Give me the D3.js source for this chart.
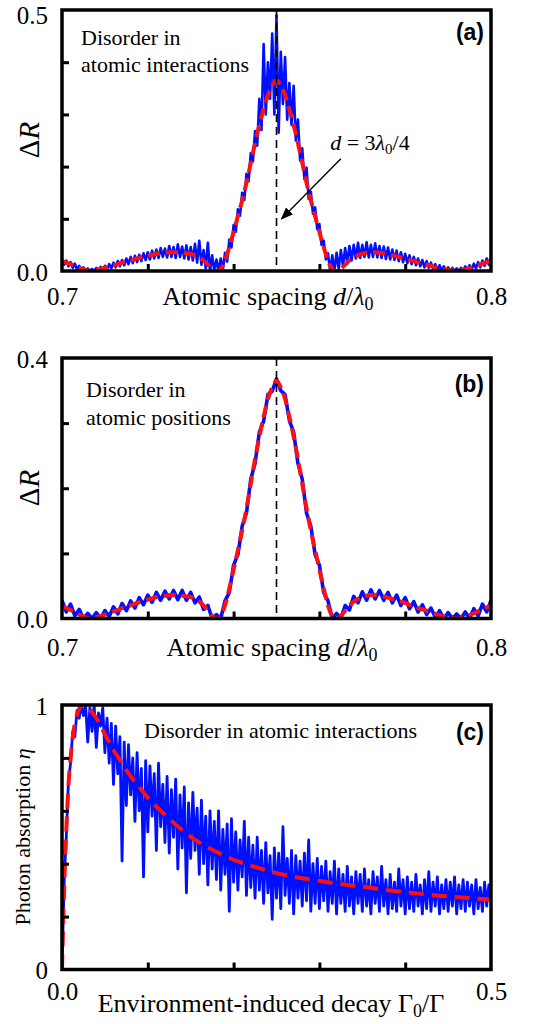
<!DOCTYPE html>
<html>
<head>
<meta charset="utf-8">
<script src="https://cdnjs.cloudflare.com/ajax/libs/d3/7.8.5/d3.min.js"></script>
<style>
body { margin: 0; background: #fff; }
svg text { font-family: "Liberation Serif", "Times New Roman", serif; fill: #000; }
</style>
</head>
<body>
<div id="chart"></div>
<script>
// ---- data ----
// mean Delta R (red dashed), panels (a) and (b), d/lambda0 = 0.700..0.800 step 0.001
var meanDR = [.019,.016,.013,.010,.006,.003,.001,.000,.002,.004,
  .006,.008,.011,.013,.016,.018,.020,.023,.025,.027,
  .029,.031,.033,.034,.035,.036,.036,.036,.035,.034,
  .033,.030,.026,.020,.012,.004,.000,.004,.020,.046,
  .075,.105,.135,.169,.207,.245,.279,.310,.337,.355,
  .365,
  .355,.337,.310,.279,.245,.207,.169,.135,.105,.075,
  .046,.020,.004,.000,.004,.012,.020,.026,.030,.033,
  .035,.036,.036,.035,.034,.032,.030,.028,.026,.024,
  .021,.019,.016,.014,.012,.010,.007,.005,.003,.002,
  .001,.000,.001,.003,.005,.008,.011,.014,.017,.020];

// single realisation, disorder in atomic interactions (a), step 0.0005
var blueA = [.022,.012,.020,.009,.017,.006,.014,.003,.010,.001,
  .007,.000,.005,.000,.004,.000,.006,.000,.008,.002,
  .010,.003,.013,.005,.016,.007,.019,.009,.021,.011,
  .024,.013,.027,.015,.029,.017,.031,.019,.034,.021,
  .036,.022,.039,.024,.041,.025,.044,.027,.043,.026,
  .048,.027,.046,.025,.051,.027,.047,.024,.049,.022,
  .046,.020,.052,.016,.058,.012,.040,.005,.054,.000,
  .030,.000,.022,.000,.024,.002,.035,.018,.060,.045,
  .088,.075,.118,.106,.150,.136,.186,.172,.226,.210,
  .268,.240,.330,.270,.435,.300,.400,.330,.455,.300,
  .490,.265,.420,.320,.410,.290,.360,.280,.355,.250,
  .290,.212,.235,.176,.198,.138,.152,.110,.122,.080,
  .090,.050,.058,.022,.034,.000,.030,.000,.035,.004,
  .040,.010,.044,.015,.048,.020,.050,.024,.054,.025,
  .050,.027,.055,.026,.050,.027,.053,.026,.048,.025,
  .047,.023,.045,.022,.041,.021,.039,.019,.036,.017,
  .033,.015,.030,.013,.027,.011,.024,.009,.021,.007,
  .019,.006,.016,.004,.013,.002,.011,.001,.009,.000,
  .007,.000,.006,.000,.005,.000,.006,.001,.009,.002,
  .011,.003,.014,.005,.017,.007,.020,.010,.024,.012,
  .026];

// single realisation, disorder in atomic positions (b), step 0.001
var blueB = [.028,.010,.022,.004,.014,.000,.008,.000,.009,.000,
  .012,.003,.018,.007,.023,.012,.027,.016,.032,.021,
  .036,.025,.040,.028,.042,.030,.043,.029,.043,.028,
  .040,.024,.033,.014,.020,.000,.006,.000,.027,.040,
  .082,.098,.142,.162,.214,.238,.286,.303,.344,.349,
  .368,
  .350,.344,.304,.286,.238,.214,.162,.142,.098,.082,
  .040,.027,.000,.008,.000,.020,.013,.034,.024,.041,
  .028,.044,.030,.043,.028,.040,.024,.036,.020,.032,
  .015,.026,.010,.021,.006,.016,.002,.012,.000,.009,
  .000,.007,.000,.010,.000,.015,.004,.022,.010,.028];

// photon absorption (c): mean curve
var decayMeanX = [0, 0.002, 0.004, 0.006, 0.008, 0.01, 0.013, 0.016, 0.02, 0.025, 0.03, 0.04, 0.05, 0.06, 0.07, 0.08, 0.09, 0.10,
  0.12, 0.14, 0.16, 0.18, 0.20, 0.22, 0.24, 0.26, 0.28, 0.30, 0.32, 0.35, 0.38, 0.41, 0.44, 0.47, 0.50];
var etaMean = [0, 0.25, 0.45, 0.60, 0.72, 0.80, 0.89, 0.945, 0.985, 1.0, 0.99, 0.95, 0.89, 0.83, 0.78, 0.73, 0.69, 0.65,
  0.585, 0.527, 0.48, 0.445, 0.415, 0.393, 0.373, 0.357, 0.345, 0.335, 0.325, 0.313, 0.300, 0.289, 0.279, 0.271, 0.265];

// photon absorption (c): single realisation, step 0.0025
var etaBlue = [0.00,0.33,0.50,0.71,0.78,0.90,0.88,0.98,0.95,1.00,
  0.96,1.00,0.86,0.99,0.90,1.00,0.84,0.97,0.92,0.99,
  0.82,0.95,0.78,0.93,0.70,0.92,0.74,0.88,0.41,0.86,
  0.62,0.85,0.66,0.80,0.56,0.82,0.60,0.76,0.35,0.79,
  0.52,0.77,0.58,0.74,0.45,0.78,0.54,0.70,0.48,0.73,
  0.44,0.68,0.50,0.72,0.38,0.66,0.46,0.69,0.29,0.63,
  0.42,0.67,0.45,0.61,0.36,0.64,0.40,0.58,0.32,0.60,
  0.38,0.56,0.34,0.60,0.30,0.53,0.36,0.55,0.22,0.57,
  0.33,0.52,0.30,0.49,0.35,0.56,0.28,0.50,0.31,0.47,
  0.27,0.50,0.30,0.45,0.25,0.48,0.29,0.43,0.19,0.46,
  0.27,0.44,0.23,0.54,0.28,0.42,0.25,0.45,0.21,0.43,
  0.27,0.41,0.24,0.44,0.26,0.49,0.22,0.40,0.25,0.42,
  0.23,0.39,0.26,0.41,0.22,0.37,0.25,0.41,0.21,0.38,
  0.25,0.36,0.22,0.39,0.24,0.35,0.21,0.37,0.25,0.36,
  0.22,0.38,0.24,0.34,0.21,0.37,0.25,0.35,0.22,0.39,
  0.24,0.34,0.21,0.36,0.23,0.33,0.22,0.38,0.24,0.34,
  0.21,0.35,0.23,0.33,0.22,0.36,0.24,0.32,0.21,0.34,
  0.23,0.37,0.22,0.33,0.24,0.35,0.21,0.32,0.23,0.34,
  0.22,0.33,0.24,0.35,0.21,0.32,0.23,0.34,0.22,0.33,
  0.24,0.32,0.21,0.34,0.23,0.31,0.22,0.33,0.24,0.32,
  0.26];

// ticks
var spacingTicks = [0.72, 0.74, 0.76, 0.78];
var spacingLabels = [0.7, 0.8];
var dRTicksA = [0.1, 0.2, 0.3, 0.4];
var dRLabelsA = [0.0, 0.5];
var dRTicksB = [0.1, 0.2, 0.3];
var dRLabelsB = [0.0, 0.4];
var decayTicks = [0.1, 0.2, 0.3, 0.4];
var decayLabels = [0.0, 0.5];
var etaTicks = [0.2, 0.4, 0.6, 0.8];
var etaLabels = [0, 1];

// ---- drawing ----
var W = 540, H = 1024;
var left = 62, right = 491;
var SERIF = "'Liberation Serif', 'Times New Roman', Times, serif";
var SANS = "'Liberation Sans', Arial, Helvetica, sans-serif";

var svg = d3.select("#chart").append("svg")
  .attr("width", W).attr("height", H);

var defs = svg.append("defs");
defs.append("marker").attr("id", "arrow")
  .attr("viewBox", "0 0 10 10").attr("refX", 9).attr("refY", 5)
  .attr("markerWidth", 9).attr("markerHeight", 9).attr("orient", "auto")
  .append("path").attr("d", "M0,1 L10,5 L0,9 Z").attr("fill", "#000");

function grid(vals, x0, step) {
  return vals.map(function(v, i) { return [x0 + i * step, v]; });
}

function txt(g, size, x, y) {
  return g.append("text").attr("x", x).attr("y", y)
    .style("font-family", SERIF).style("font-size", size + "px");
}

function panel(o) {
  var g = svg.append("g");
  var x = d3.scaleLinear().domain(o.xDomain).range([left, right]);
  var y = d3.scaleLinear().domain(o.yDomain).range([o.bottom, o.top]);

  defs.append("clipPath").attr("id", "clip" + o.id)
    .append("rect").attr("x", left).attr("y", o.top)
    .attr("width", right - left).attr("height", o.bottom - o.top);

  var plot = g.append("g").attr("clip-path", "url(#clip" + o.id + ")");
  var line = d3.line().x(function(d) { return x(d[0]); }).y(function(d) { return y(d[1]); });

  plot.append("path").datum(o.blue)
    .attr("d", line)
    .attr("fill", "none").attr("stroke", "#0010ff")
    .attr("stroke-width", o.blueWidth).attr("stroke-linejoin", "round");

  plot.append("path").datum(o.red)
    .attr("d", line.curve(d3.curveMonotoneX))
    .attr("fill", "none").attr("stroke", "#ff1010")
    .attr("stroke-width", 4).attr("stroke-dasharray", o.dash);

  if (o.marker != null) {
    g.append("line")
      .attr("x1", x(o.marker)).attr("x2", x(o.marker))
      .attr("y1", o.top).attr("y2", o.bottom)
      .attr("stroke", "#000").attr("stroke-width", 1.6)
      .attr("stroke-dasharray", "8,5");
  }

  // inner ticks
  g.append("g").attr("transform", "translate(0," + o.bottom + ")")
    .call(d3.axisBottom(x).tickValues(o.xTicks).tickSize(-7).tickFormat(""))
    .call(function(a) { a.select(".domain").remove(); a.selectAll("line").attr("stroke-width", 3); });
  g.append("g").attr("transform", "translate(" + left + ",0)")
    .call(d3.axisLeft(y).tickValues(o.yTicks).tickSize(-7).tickFormat(""))
    .call(function(a) { a.select(".domain").remove(); a.selectAll("line").attr("stroke-width", 3); });

  // corner labels
  g.append("g").attr("transform", "translate(0," + o.bottom + ")")
    .call(d3.axisBottom(x).tickValues(o.xLabels).tickSize(0).tickPadding(o.xPad).tickFormat(o.xFmt))
    .call(function(a) { a.select(".domain").remove(); });
  g.append("g").attr("transform", "translate(" + left + ",0)")
    .call(d3.axisLeft(y).tickValues(o.yLabels).tickSize(0).tickPadding(14).tickFormat(o.yFmt))
    .call(function(a) {
      a.select(".domain").remove();
      a.selectAll("text").attr("dy", function(d, i) { return i === o.yLabels.length - 1 ? o.topDy : "0.36em"; });
    });
  g.selectAll(".tick text").style("font-family", SERIF).style("font-size", "25px");

  // frame
  g.append("rect").attr("x", left).attr("y", o.top)
    .attr("width", right - left).attr("height", o.bottom - o.top)
    .attr("fill", "none").attr("stroke", "#000").attr("stroke-width", 3.5);

  return { g: g, x: x, y: y };
}

function spacingTitle(g, cx, by) {
  var t = txt(g, 26, cx, by).attr("text-anchor", "middle");
  t.append("tspan").text("Atomic spacing ");
  t.append("tspan").style("font-style", "italic").text("d");
  t.append("tspan").text("/");
  t.append("tspan").style("font-style", "italic").text("λ");
  t.append("tspan").style("font-size", "18px").attr("dy", 5).text("0");
}

function dRTitle(g, cy) {
  var t = txt(g, 29, 0, 0).attr("transform", "translate(39," + cy + ") rotate(-90)")
    .attr("text-anchor", "middle");
  t.append("tspan").text("Δ");
  t.append("tspan").style("font-style", "italic").text("R");
}

function tag(g, y, s) {
  g.append("text").attr("x", 484).attr("y", y).attr("text-anchor", "end")
    .style("font-family", SANS).style("font-weight", "bold").style("font-size", "23px").text(s);
}

var f1 = d3.format(".1f");

// (a)
var pa = panel({
  id: "a", xDomain: [0.7, 0.8], yDomain: [0, 0.5], top: 10, bottom: 271,
  blue: grid(blueA, 0.7, 0.0005), red: grid(meanDR, 0.7, 0.001), blueWidth: 2.6, dash: "12,6",
  marker: 0.75, xTicks: spacingTicks, yTicks: dRTicksA,
  xLabels: spacingLabels, yLabels: dRLabelsA, xPad: 16, xFmt: f1, yFmt: f1, topDy: "0.52em"
});
spacingTitle(pa.g, 268, 305);
dRTitle(pa.g, 140);
txt(pa.g, 22, 81, 45).text("Disorder in");
txt(pa.g, 22, 81, 72).text("atomic interactions");
tag(pa.g, 40, "(a)");
var ann = txt(pa.g, 22, pa.x(0.7625), pa.y(0.232));
ann.append("tspan").style("font-style", "italic").text("d");
ann.append("tspan").text(" = 3");
ann.append("tspan").style("font-style", "italic").text("λ");
ann.append("tspan").style("font-size", "15px").attr("dy", 4).text("0");
ann.append("tspan").attr("dy", -4).text("/4");
pa.g.append("line")
  .attr("x1", pa.x(0.765)).attr("y1", pa.y(0.215))
  .attr("x2", pa.x(0.7512)).attr("y2", pa.y(0.10))
  .attr("stroke", "#000").attr("stroke-width", 1.4).attr("marker-end", "url(#arrow)");

// (b)
var pb = panel({
  id: "b", xDomain: [0.7, 0.8], yDomain: [0, 0.4], top: 358, bottom: 618.5,
  blue: grid(blueB, 0.7, 0.001), red: grid(meanDR, 0.7, 0.001), blueWidth: 3.6, dash: "12,6",
  marker: 0.75, xTicks: spacingTicks, yTicks: dRTicksB,
  xLabels: spacingLabels, yLabels: dRLabelsB, xPad: 20, xFmt: f1, yFmt: f1, topDy: "0.36em"
});
spacingTitle(pb.g, 272, 656);
dRTitle(pb.g, 488);
txt(pb.g, 22, 86, 397).text("Disorder in");
txt(pb.g, 22, 86, 425).text("atomic positions");
tag(pb.g, 392, "(b)");

// (c)
var pc = panel({
  id: "c", xDomain: [0, 0.5], yDomain: [0, 1], top: 705, bottom: 969.5,
  blue: grid(etaBlue, 0, 0.0025), red: decayMeanX.map(function(d, i) { return [d, etaMean[i]]; }), blueWidth: 2.8, dash: "15,8",
  marker: null, xTicks: decayTicks, yTicks: etaTicks,
  xLabels: decayLabels, yLabels: etaLabels, xPad: 13, xFmt: f1, yFmt: d3.format("d"), topDy: "0.36em"
});
var tc = txt(pc.g, 26, 271, 1012).attr("text-anchor", "middle");
tc.append("tspan").text("Environment-induced decay Γ");
tc.append("tspan").style("font-size", "18px").attr("dy", 5).text("0");
tc.append("tspan").attr("dy", -5).text("/Γ");
var ty = txt(pc.g, 22, 0, 0).attr("transform", "translate(30,837) rotate(-90)").attr("text-anchor", "middle");
ty.append("tspan").text("Photon absorption ");
ty.append("tspan").style("font-style", "italic").text("η");
txt(pc.g, 22, 144, 738).text("Disorder in atomic interactions");
tag(pc.g, 740, "(c)");
</script>
</body>
</html>
